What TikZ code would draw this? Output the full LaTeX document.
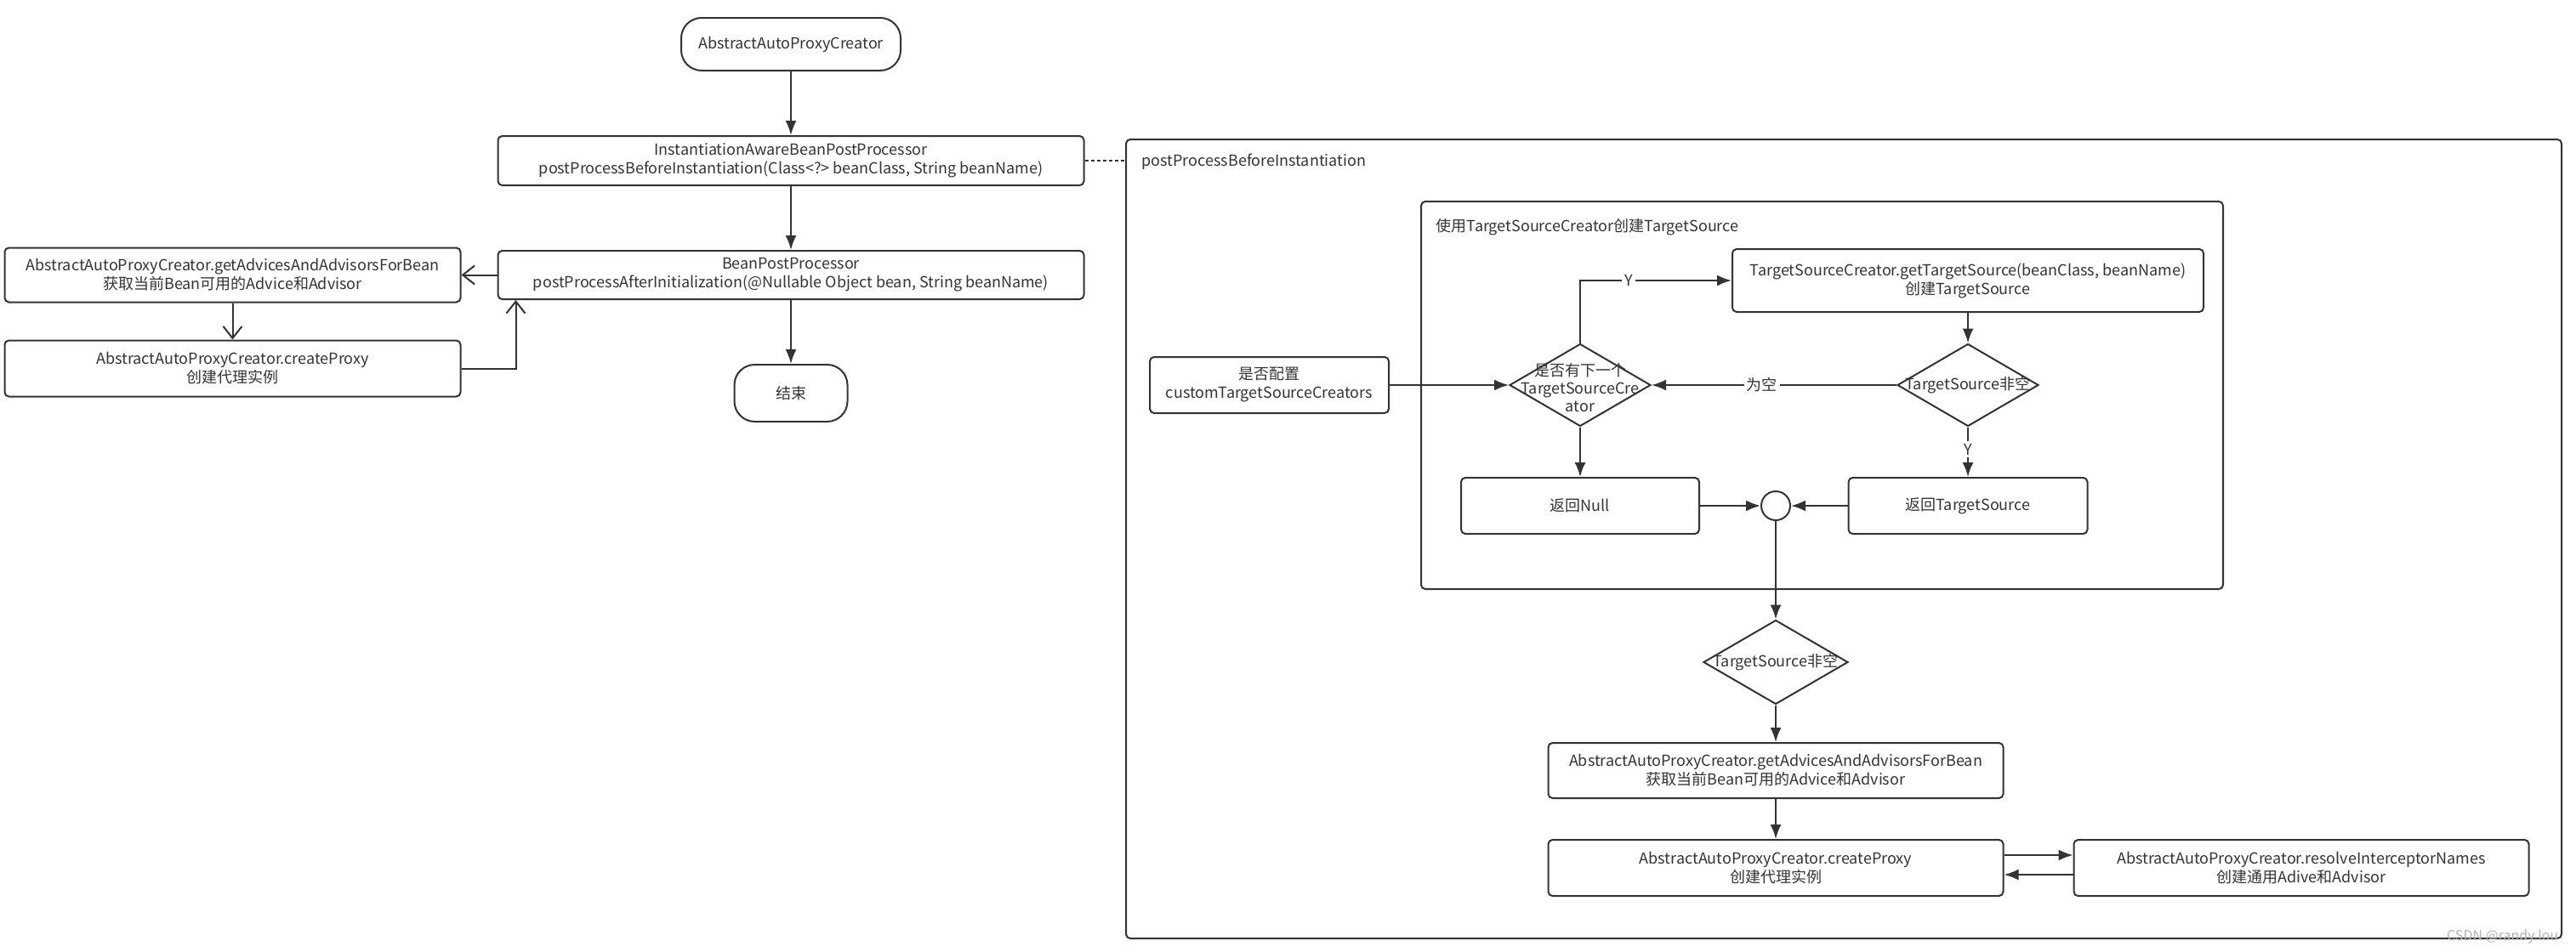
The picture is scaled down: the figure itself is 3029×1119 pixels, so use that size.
\documentclass[tikz,border=0pt]{standalone}
\usepackage{fontspec}
\setmainfont{Noto Sans CJK SC}
\definecolor{ink}{HTML}{333333}
\usetikzlibrary{arrows.meta}
\usetikzlibrary{positioning}
\usetikzlibrary{shapes.geometric}
\tikzstyle{block} = [rectangle, draw, align=center, rounded corners=2.5pt, minimum height=33pt]
\tikzstyle{term} = [rectangle, draw, align=center, rounded corners=12pt]
\tikzstyle{decision} = [diamond, draw, minimum width=83pt, minimum height=48.5pt, inner sep=0pt]
\tikzstyle{frame} = [rectangle, draw, rounded corners=2.5pt, anchor=north west]
\tikzstyle{flow} = [-{Latex[length=8.5pt,width=6.5pt]}]
\tikzstyle{back} = [-{Straight Barb[length=7pt,width=11pt]}]
\tikzstyle{cond} = [fill=white, inner sep=1.5pt]

\begin{document}
\begin{tikzpicture}[x=0.5pt, y=-0.5pt, color=ink, line width=1pt,
    font=\fontsize{9pt}{11pt}\selectfont]
    \useasboundingbox (0,0) rectangle (3029,1119);

    \node[block, minimum width=344.5pt, minimum height=29pt] (iabpp) at (930,189) {InstantiationAwareBeanPostProcessor\\postProcessBeforeInstantiation(Class<?> beanClass, String beanName)};
    \node[term, above=37.5pt of iabpp, minimum width=129pt, minimum height=31pt] (start) {AbstractAutoProxyCreator};
    \node[block, below=37.5pt of iabpp, minimum width=344.5pt, minimum height=28.5pt] (bpp) {BeanPostProcessor\\postProcessAfterInitialization(@Nullable Object bean, String beanName)};
    \node[term, below=37.5pt of bpp, minimum width=66.5pt, minimum height=33.5pt] (end) {结束};
    \node[block, left=21pt of bpp, minimum width=268pt, minimum height=32pt] (leftadv) {AbstractAutoProxyCreator.getAdvicesAndAdvisorsForBean\\获取当前Bean可用的Advice和Advisor};
    \node[block, below=21.5pt of leftadv, minimum width=268pt] (leftproxy) {AbstractAutoProxyCreator.createProxy\\创建代理实例};

    \draw[flow] (start) -- (iabpp);
    \draw[flow] (iabpp) -- (bpp);
    \draw[flow] (bpp) -- (end);
    \draw[back] (bpp) -- (leftadv);
    \draw[back] (leftadv) -- (leftproxy);
    \draw[back] (leftproxy.east) -| ([xshift=11pt]bpp.south west);

    \node[frame, minimum width=844pt, minimum height=470pt] (outer) at (1323,163) {};
    \node[anchor=west] (outerlbl) at (1335,190) {postProcessBeforeInstantiation};
    \draw[dash pattern=on 2pt off 1.5pt] (iabpp.east) -- (iabpp.east -| outer.west);

    \node[frame, minimum width=471.5pt, minimum height=228pt] (inner) at (1670,236) {};
    \node[anchor=west] (innerlbl) at (1681,267) {使用TargetSourceCreator创建TargetSource};

    \node[block, minimum width=140.5pt] (cfg) at (1492.5,453) {是否配置\\customTargetSourceCreators};
    \node[decision, label={[align=center, font=\fontsize{9pt}{10.5pt}\selectfont, yshift=-1.5pt]center:是否有下一个\\TargetSourceCre\\ator}] (dec1) at (1858,453) {};
    \node[block, minimum width=277pt, minimum height=37pt] (gts) at (2314,330) {TargetSourceCreator.getTargetSource(beanClass, beanName)\\创建TargetSource};
    \node[decision, label=center:TargetSource非空] (dec2) at (2314,453) {};
    \node[block, minimum width=140pt] (retnull) at (1858,595) {返回Null};
    \node[circle, draw, minimum size=17pt, inner sep=0pt] (join) at (2088,595) {};
    \node[block, minimum width=140.5pt] (retts) at (2314,595) {返回TargetSource};
    \node[decision, minimum width=85pt, minimum height=49.5pt, label=center:TargetSource非空] (dec3) at (2088,779) {};
    \node[block, minimum width=267.5pt, minimum height=32.5pt] (adv2) at (2088,906.5) {AbstractAutoProxyCreator.getAdvicesAndAdvisorsForBean\\获取当前Bean可用的Advice和Advisor};
    \node[block, below=23.5pt of adv2, minimum width=267.5pt] (proxy2) {AbstractAutoProxyCreator.createProxy\\创建代理实例};
    \node[block, right=40.5pt of proxy2, minimum width=267.5pt] (resolve) {AbstractAutoProxyCreator.resolveInterceptorNames\\创建通用Adive和Advisor};

    \draw[flow] (cfg) -- (dec1);
    \draw[flow] (dec1.north) |- node[cond, pos=0.66] {Y} (gts.west);
    \draw[flow] (gts) -- (dec2);
    \draw[flow] (dec2) -- node[cond, pos=0.55] {为空} (dec1);
    \draw[flow] (dec2) -- node[cond, pos=0.45] {Y} (retts);
    \draw[flow] (dec1) -- (retnull);
    \draw[flow] (retnull) -- (join);
    \draw[flow] (retts) -- (join);
    \draw[flow] (join) -- (dec3);
    \draw[flow] (dec3) -- (adv2);
    \draw[flow] (adv2) -- (proxy2);
    \draw[flow] ([yshift=7.5pt]proxy2.east) -- ([yshift=7.5pt]resolve.west);
    \draw[flow] ([yshift=-4pt]resolve.west) -- ([yshift=-4pt]proxy2.east);

    \node[anchor=east, text=gray!60, font=\fontsize{8pt}{9pt}\selectfont] (mark) at (3016,1102) {CSDN @randy.lou};
\end{tikzpicture}
\end{document}
